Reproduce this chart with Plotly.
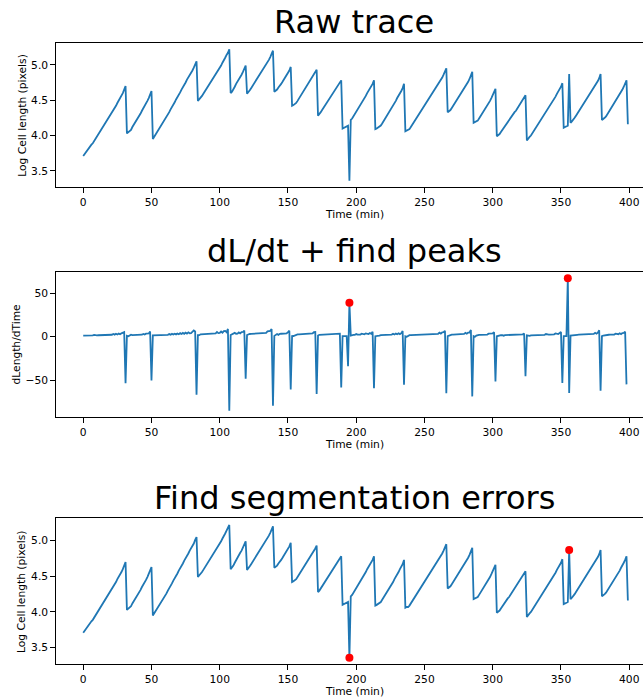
import numpy as np
import plotly.graph_objects as go

# ---------------- data ----------------
time_min = list(range(400))

log_length = [
    3.71, 3.74, 3.77, 3.80, 3.82, 3.85, 3.87, 3.89, 3.92, 3.96,
    3.99, 4.02, 4.05, 4.08, 4.11, 4.14, 4.17, 4.20, 4.23, 4.26,
    4.29, 4.32, 4.35, 4.39, 4.42, 4.46, 4.49, 4.53, 4.56, 4.60,
    4.65, 4.70, 4.03, 4.05, 4.06, 4.08, 4.12, 4.15, 4.18, 4.21,
    4.24, 4.28, 4.31, 4.35, 4.38, 4.42, 4.45, 4.49, 4.53, 4.57,
    4.63, 3.95, 3.98, 4.01, 4.04, 4.07, 4.10, 4.13, 4.16, 4.20,
    4.23, 4.26, 4.30, 4.33, 4.37, 4.40, 4.44, 4.47, 4.51, 4.54,
    4.58, 4.61, 4.65, 4.68, 4.72, 4.75, 4.79, 4.82, 4.86, 4.89,
    4.92, 4.96, 5.01, 5.05, 4.49, 4.51, 4.53, 4.56, 4.59, 4.62,
    4.65, 4.68, 4.71, 4.74, 4.77, 4.80, 4.83, 4.86, 4.89, 4.93,
    4.96, 4.99, 5.03, 5.06, 5.10, 5.14, 5.17, 5.22, 4.60, 4.62,
    4.65, 4.69, 4.73, 4.76, 4.79, 4.83, 4.86, 4.90, 4.94, 4.99,
    4.59, 4.61, 4.64, 4.67, 4.70, 4.73, 4.76, 4.79, 4.82, 4.85,
    4.88, 4.91, 4.94, 4.97, 5.00, 5.03, 5.07, 5.11, 5.15, 5.20,
    4.62, 4.63, 4.65, 4.68, 4.70, 4.73, 4.76, 4.79, 4.82, 4.85,
    4.88, 4.92, 4.97, 4.42, 4.43, 4.44, 4.46, 4.49, 4.52, 4.55,
    4.58, 4.61, 4.64, 4.67, 4.70, 4.73, 4.76, 4.79, 4.82, 4.85,
    4.89, 4.93, 4.28, 4.30, 4.33, 4.36, 4.39, 4.42, 4.45, 4.48,
    4.51, 4.54, 4.57, 4.60, 4.63, 4.66, 4.69, 4.72, 4.75, 4.78,
    4.10, 4.11, 4.12, 4.13, 4.14, 3.36, 4.22, 4.24, 4.27, 4.30,
    4.33, 4.37, 4.40, 4.43, 4.46, 4.50, 4.53, 4.56, 4.60, 4.63,
    4.66, 4.70, 4.73, 4.78, 4.09, 4.10, 4.11, 4.12, 4.14, 4.17,
    4.20, 4.23, 4.26, 4.29, 4.32, 4.36, 4.39, 4.42, 4.46, 4.49,
    4.53, 4.56, 4.60, 4.63, 4.67, 4.73, 4.06, 4.07, 4.07, 4.09,
    4.12, 4.15, 4.18, 4.21, 4.24, 4.27, 4.30, 4.33, 4.36, 4.39,
    4.42, 4.45, 4.48, 4.51, 4.54, 4.57, 4.60, 4.63, 4.66, 4.69,
    4.72, 4.75, 4.79, 4.82, 4.86, 4.90, 4.95, 4.33, 4.34, 4.36,
    4.39, 4.42, 4.45, 4.48, 4.51, 4.54, 4.57, 4.60, 4.63, 4.66,
    4.69, 4.73, 4.76, 4.80, 4.84, 4.90, 4.18, 4.19, 4.19, 4.21,
    4.24, 4.27, 4.30, 4.33, 4.36, 4.39, 4.42, 4.45, 4.49, 4.53,
    4.57, 4.61, 4.66, 3.99, 4.00, 4.02, 4.05, 4.08, 4.11, 4.13,
    4.16, 4.19, 4.21, 4.24, 4.27, 4.30, 4.33, 4.35, 4.38, 4.41,
    4.44, 4.47, 4.50, 4.53, 4.57, 3.93, 3.96, 3.98, 4.00, 4.03,
    4.06, 4.09, 4.12, 4.15, 4.18, 4.21, 4.24, 4.27, 4.30, 4.33,
    4.37, 4.40, 4.43, 4.46, 4.49, 4.52, 4.55, 4.59, 4.62, 4.65,
    4.69, 4.74, 4.11, 4.12, 4.13, 4.14, 4.87, 4.18, 4.20, 4.22,
    4.25, 4.28, 4.31, 4.34, 4.37, 4.40, 4.43, 4.46, 4.49, 4.52,
    4.55, 4.58, 4.61, 4.64, 4.67, 4.70, 4.74, 4.77, 4.81, 4.87,
    4.22, 4.23, 4.25, 4.27, 4.30, 4.33, 4.36, 4.39, 4.42, 4.45,
    4.48, 4.52, 4.55, 4.58, 4.62, 4.65, 4.69, 4.73, 4.78, 4.16,
]

panel_titles = ["Raw trace", "dL/dt + find peaks", "Find segmentation errors"]
y_titles = ["Log Cell length (pixels)", "dLength/dTime", "Log Cell length (pixels)"]
x_title = "Time (min)"
peak_threshold = 20      # dL/dt peaks above this are flagged
jump_threshold = 0.3     # log-length jump that counts as a big step

# ---------------- derived series ----------------
t = np.array(time_min, dtype=float)
L = np.array(log_length, dtype=float)
length_px = np.exp(L)
dLdt = np.diff(length_px) / np.diff(t)
t_d = t[:-1]

peak_idx = np.where(dLdt > peak_threshold)[0]
jumps = np.abs(np.diff(L))
err_idx = np.array([i for i in range(1, len(L) - 1)
                    if jumps[i - 1] > jump_threshold and jumps[i] > jump_threshold])

# ---------------- layout helpers ----------------
W, H = 643, 697
BLUE = "#1f77b4"
FONT = "DejaVu Sans"

def px_x(p):
    return p / W

def px_y(p):
    return 1 - p / H

ax_left = 56.0
full_right = 655.1
panels_px = [(42.7, 187.3), (271.7, 417.3), (518.3, 664.3)]

pad = 0.05 * (t.max() - t.min())
x_full = [t.min() - pad, t.max() + pad]
x_vis = x_full[0] + (x_full[1] - x_full[0]) * (W - ax_left) / (full_right - ax_left)

def yr(v):
    lo, hi = float(np.min(v)), float(np.max(v))
    p = 0.05 * (hi - lo)
    return [lo - p, hi + p]

fig = go.Figure()

fig.add_trace(go.Scatter(x=t, y=L, mode="lines", line=dict(color=BLUE, width=1.8),
                         xaxis="x", yaxis="y", showlegend=False))
fig.add_trace(go.Scatter(x=t_d, y=dLdt, mode="lines", line=dict(color=BLUE, width=1.8),
                         xaxis="x2", yaxis="y2", showlegend=False))
fig.add_trace(go.Scatter(x=t_d[peak_idx], y=dLdt[peak_idx], mode="markers",
                         marker=dict(color="red", size=8), xaxis="x2", yaxis="y2",
                         showlegend=False))
fig.add_trace(go.Scatter(x=t, y=L, mode="lines", line=dict(color=BLUE, width=1.8),
                         xaxis="x3", yaxis="y3", showlegend=False))
fig.add_trace(go.Scatter(x=t[err_idx], y=L[err_idx], mode="markers",
                         marker=dict(color="red", size=8), xaxis="x3", yaxis="y3",
                         showlegend=False))

tickfont = dict(family=FONT, size=10.7, color="black")
common_x = dict(range=[x_full[0], x_vis], domain=[px_x(ax_left), 1], tick0=0, dtick=50,
                showline=True, linecolor="black", linewidth=1.1, mirror=True,
                ticks="outside", ticklen=4.7, tickwidth=1.1, tickcolor="black",
                showgrid=False, zeroline=False, tickfont=tickfont)
common_y = dict(showline=True, linecolor="black", linewidth=1.1, mirror=False,
                ticks="outside", ticklen=4.7, tickwidth=1.1, tickcolor="black",
                showgrid=False, zeroline=False, tickfont=tickfont)

layout = dict(width=W, height=H, margin=dict(l=0, r=0, t=0, b=0),
              paper_bgcolor="white", plot_bgcolor="white", showlegend=False)

for k, (top, bot) in enumerate(panels_px, start=1):
    sx = "" if k == 1 else str(k)
    xa = dict(common_x, anchor="y" + sx)
    ya = dict(common_y, anchor="x" + sx, domain=[px_y(bot), px_y(top)])
    if k == 2:
        ya.update(range=yr(dLdt), tick0=0, dtick=50)
    else:
        ya.update(range=yr(L), tick0=0, dtick=0.5, tickformat=".1f")
    layout["xaxis" + sx] = xa
    layout["yaxis" + sx] = ya

annotations = []
title_cx = 354.0
ylab_x = [21.7, 16.0, 21.7]
for k, (top, bot) in enumerate(panels_px):
    annotations.append(dict(text=panel_titles[k], xref="paper", yref="paper",
                            x=px_x(title_cx), y=px_y(top - 20.5), xanchor="center",
                            yanchor="middle", showarrow=False,
                            font=dict(family=FONT, size=32, color="black")))
    annotations.append(dict(text=x_title, xref="paper", yref="paper",
                            x=px_x(title_cx), y=px_y(bot + 27), xanchor="center",
                            yanchor="middle", showarrow=False,
                            font=dict(family=FONT, size=10.7, color="black")))
    annotations.append(dict(text=y_titles[k], xref="paper", yref="paper",
                            x=px_x(ylab_x[k]), y=px_y((top + bot) / 2), xanchor="center",
                            yanchor="middle", textangle=-90, showarrow=False,
                            font=dict(family=FONT, size=10.7, color="black")))
layout["annotations"] = annotations

fig.update_layout(**layout)
fig.write_html("out.html")
